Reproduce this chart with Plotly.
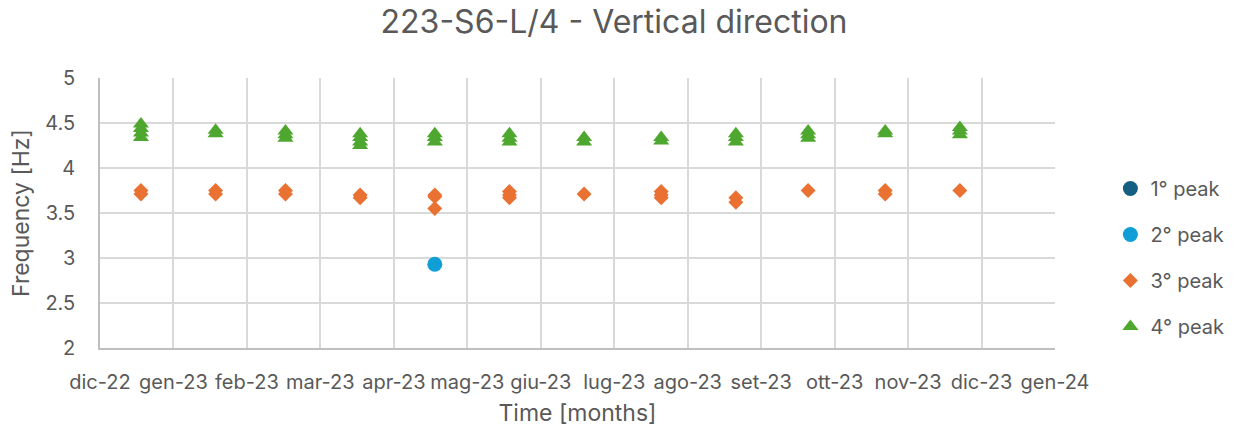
import pandas as pd
import plotly.graph_objects as go

# Month tick labels (Italian) for the time axis
tick_labels = ["dic-22", "gen-23", "feb-23", "mar-23", "apr-23", "mag-23", "giu-23",
               "lug-23", "ago-23", "set-23", "ott-23", "nov-23", "dic-23", "gen-24"]
axis_start = pd.Timestamp("2022-12-05")
tick_step = pd.Timedelta(days=30.5)

# 1st peak: no detections in this period
peak1_dates = []
peak1_values = []

# 2nd peak
peak2_dates = ["2023-04-23"]
peak2_values = [2.93]

# 3rd peak
peak3_dates = ["2022-12-22", "2022-12-22",
               "2023-01-22", "2023-01-22",
               "2023-02-20", "2023-02-20",
               "2023-03-23", "2023-03-23",
               "2023-04-23", "2023-04-23", "2023-04-23",
               "2023-05-24", "2023-05-24", "2023-05-24",
               "2023-06-24",
               "2023-07-26", "2023-07-26", "2023-07-26",
               "2023-08-26", "2023-08-26",
               "2023-09-25",
               "2023-10-27", "2023-10-27",
               "2023-11-27"]
peak3_values = [3.75, 3.71,
                3.75, 3.71,
                3.75, 3.71,
                3.70, 3.67,
                3.70, 3.68, 3.55,
                3.74, 3.70, 3.67,
                3.71,
                3.74, 3.70, 3.67,
                3.67, 3.62,
                3.75,
                3.75, 3.71,
                3.75]

# 4th peak
peak4_dates = ["2022-12-22", "2022-12-22", "2022-12-22", "2022-12-22",
               "2023-01-22", "2023-01-22",
               "2023-02-20", "2023-02-20", "2023-02-20",
               "2023-03-23", "2023-03-23", "2023-03-23", "2023-03-23",
               "2023-04-23", "2023-04-23", "2023-04-23",
               "2023-05-24", "2023-05-24", "2023-05-24",
               "2023-06-24", "2023-06-24",
               "2023-07-26", "2023-07-26",
               "2023-08-26", "2023-08-26", "2023-08-26",
               "2023-09-25", "2023-09-25", "2023-09-25",
               "2023-10-27", "2023-10-27",
               "2023-11-27", "2023-11-27", "2023-11-27"]
peak4_values = [4.49, 4.44, 4.39, 4.34,
                4.42, 4.38,
                4.41, 4.37, 4.33,
                4.38, 4.34, 4.29, 4.25,
                4.38, 4.34, 4.29,
                4.38, 4.33, 4.29,
                4.34, 4.29,
                4.34, 4.30,
                4.38, 4.34, 4.29,
                4.41, 4.37, 4.33,
                4.41, 4.38,
                4.45, 4.41, 4.37]

tick_dates = [axis_start + i * tick_step for i in range(len(tick_labels))]

text_color = "#595959"
font_family = "Inter, 'Noto Sans', sans-serif"

fig = go.Figure()

series = [
    ("1° peak", peak1_dates or [None], peak1_values or [None], "circle", 15, "#156082"),
    ("2° peak", peak2_dates, peak2_values, "circle", 15, "#0F9ED5"),
    ("3° peak", peak3_dates, peak3_values, "diamond", 11.5, "#E97132"),
    ("4° peak", peak4_dates, peak4_values, "triangle-up", 14, "#4EA72E"),
]
for name, xs, ys, symbol, size, color in series:
    fig.add_trace(go.Scatter(
        x=xs, y=ys, mode="markers", name=name, legendgroup=name,
        marker=dict(symbol=symbol, size=size, color=color, line=dict(width=0)),
    ))

fig.update_layout(
    width=1241, height=434,
    margin=dict(l=100, r=184, t=78, b=86),
    paper_bgcolor="white", plot_bgcolor="white",
    font=dict(family=font_family, color=text_color, size=20),
    title=dict(text="223-S6-L/4 - Vertical direction", x=0.4948, xref="container",
               xanchor="center", y=1 - 22 / 434, yref="container", yanchor="middle",
               font=dict(size=32, color=text_color, family=font_family)),
    legend=dict(x=1.058, xanchor="left", y=0.335, yanchor="middle",
                traceorder="grouped", tracegroupgap=17,
                font=dict(size=20, color=text_color), bgcolor="rgba(0,0,0,0)"),
    showlegend=True,
)

fig.update_xaxes(
    type="date",
    range=[tick_dates[0], tick_dates[-1]],
    tickmode="array", tickvals=tick_dates, ticktext=tick_labels,
    showgrid=True, gridcolor="#D9D9D9", gridwidth=1.5,
    showline=True, linecolor="#BFBFBF", linewidth=1.5,
    ticks="", ticklabelstandoff=15,
    tickfont=dict(size=20, color=text_color),
    title=dict(text="Time [months]", font=dict(size=23, color=text_color), standoff=12),
    zeroline=False,
)
fig.update_yaxes(
    range=[2, 5], dtick=0.5, tick0=2,
    showgrid=True, gridcolor="#D9D9D9", gridwidth=1.5,
    showline=True, linecolor="#BFBFBF", linewidth=1.5,
    ticks="", ticklabelstandoff=19,
    tickfont=dict(size=20, color=text_color),
    title=dict(text="Frequency [Hz]", font=dict(size=23, color=text_color), standoff=9),
    zeroline=False,
)

fig.write_html("out.html")
